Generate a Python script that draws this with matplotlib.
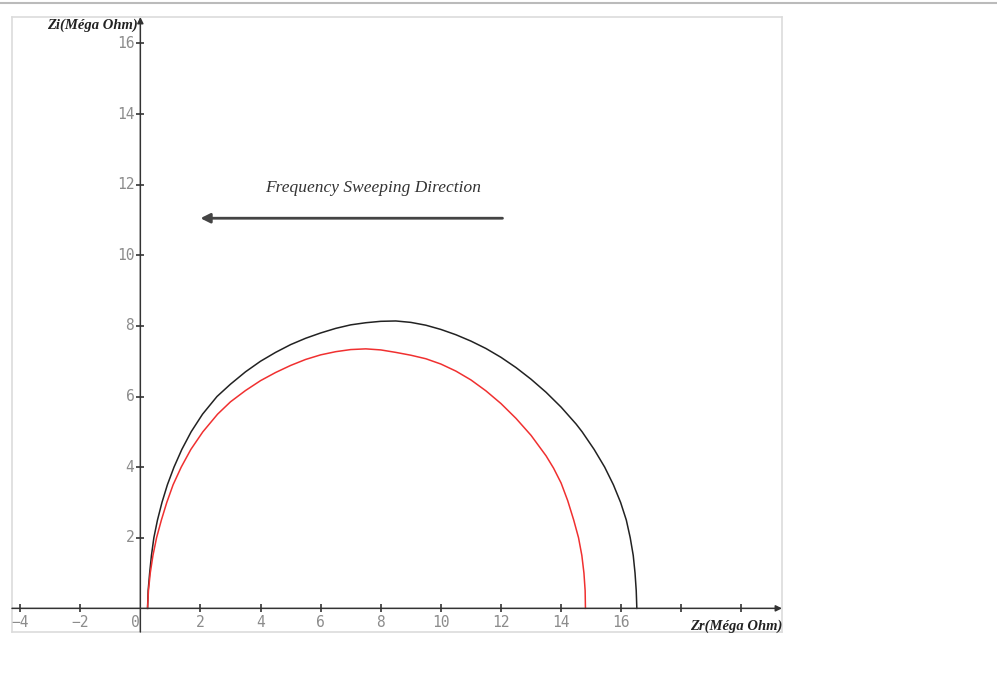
import matplotlib.pyplot as plt
from matplotlib.lines import Line2D

# Nyquist plot readings (Zr, Zi) in Mega Ohm
zr_black = [0.24, 0.26, 0.31, 0.37, 0.45, 0.57, 0.72, 0.9, 1.12, 1.38, 1.69, 2.07, 2.55,
            3.0, 3.5, 4.0, 4.5, 5.0, 5.5, 6.0, 6.5, 7.0, 7.5, 8.0, 8.5, 9.0, 9.5, 10.0,
            10.5, 11.0, 11.5, 12.0, 12.5, 13.0, 13.5, 14.0, 14.5,
            14.7, 15.1, 15.45, 15.74, 15.98, 16.17, 16.3, 16.4, 16.46, 16.5, 16.52]
zi_black = [0.0, 0.5, 1.0, 1.5, 2.0, 2.5, 3.0, 3.5, 4.0, 4.5, 5.0, 5.5, 6.0,
            6.35, 6.7, 7.0, 7.25, 7.47, 7.65, 7.8, 7.93, 8.03, 8.09, 8.13, 8.14, 8.1, 8.02, 7.9,
            7.75, 7.57, 7.36, 7.11, 6.82, 6.49, 6.12, 5.7, 5.22,
            5.0, 4.5, 4.0, 3.5, 3.0, 2.5, 2.0, 1.5, 1.0, 0.5, 0.0]

zr_red = [0.24, 0.27, 0.33, 0.42, 0.54, 0.7, 0.88, 1.09, 1.36, 1.68, 2.08, 2.57,
          3.0, 3.5, 4.0, 4.5, 5.0, 5.5, 6.0, 6.5, 7.0, 7.5, 8.0, 8.5, 9.0, 9.5, 10.0,
          10.5, 11.0, 11.5, 12.0, 12.5, 13.0, 13.5, 13.75,
          14.0, 14.22, 14.42, 14.58, 14.69, 14.76, 14.8, 14.81]
zi_red = [0.0, 0.5, 1.0, 1.5, 2.0, 2.5, 3.0, 3.5, 4.0, 4.5, 5.0, 5.5,
          5.85, 6.17, 6.45, 6.68, 6.88, 7.05, 7.18, 7.27, 7.33, 7.35, 7.32, 7.25, 7.17, 7.07, 6.92,
          6.72, 6.47, 6.16, 5.8, 5.38, 4.9, 4.32, 3.97,
          3.55, 3.05, 2.5, 2.0, 1.5, 1.0, 0.5, 0.0]

xticks = [-4, -2, 2, 4, 6, 8, 10, 12, 14, 16, 18, 20]
xlabels = ['−4', '−2', '2', '4', '6', '8', '10', '12', '14', '16', '', '']
yticks = [2, 4, 6, 8, 10, 12, 14, 16]

fig = plt.figure(figsize=(9.97, 6.97), dpi=100)
fig.add_artist(Line2D([0, 1], [0.996, 0.996], color='#bbbbbb', lw=1.5))

ax = fig.add_axes([12 / 997, 65 / 697, 770 / 997, 615 / 697])
ax.set_xlim(-4.27, 21.35)
ax.set_ylim(-0.67, 16.75)
ax.set_xticks([])
ax.set_yticks([])
for s in ax.spines.values():
    s.set_color('#dcdcdc')
    s.set_linewidth(1.2)

axis_col = '#333333'
ax.annotate('', xy=(21.35, 0), xytext=(-4.27, 0),
            arrowprops=dict(arrowstyle='-|>', color=axis_col, lw=1.1, mutation_scale=9,
                            shrinkA=0, shrinkB=0))
ax.annotate('', xy=(0, 16.75), xytext=(0, -0.67),
            arrowprops=dict(arrowstyle='-|>', color=axis_col, lw=1.1, mutation_scale=9,
                            shrinkA=0, shrinkB=0))

ax.plot(xticks, [0] * len(xticks), '|', color=axis_col, ms=6, mew=1.2)
ax.plot([0] * len(yticks), yticks, '_', color=axis_col, ms=6, mew=1.2)

lab = dict(family='DejaVu Sans Mono', fontsize=10.5, color='#8c8c8c')
for x, t in zip(xticks, xlabels):
    ax.text(x, -0.4, t, ha='center', va='center', **lab)
ax.text(-0.15, -0.4, '0', ha='center', va='center', **lab)
for y in yticks:
    ax.text(-0.2, y, str(y), ha='right', va='center', **lab)

ax.plot(zr_black, zi_black, color='#222222', lw=1.1)
ax.plot(zr_red, zi_red, color='#f03030', lw=1.1)

serif = 'Liberation Serif'
ax.text(-0.1, 16.52, 'Zi(Méga Ohm)', ha='right', va='center', family=serif,
        fontsize=10.5, fontweight='bold', fontstyle='italic', color='#222222')
ax.text(21.35, -0.5, 'Zr(Méga Ohm)', ha='right', va='center', family=serif,
        fontsize=10.5, fontweight='bold', fontstyle='italic', color='#222222')

ax.annotate('', xy=(2, 11.05), xytext=(12.05, 11.05),
            arrowprops=dict(arrowstyle='-|>', color='#444444', lw=2.0, mutation_scale=14,
                            shrinkA=0, shrinkB=0))
ax.text(7.75, 11.9, 'Frequency Sweeping Direction', ha='center', va='center', family=serif,
        fontsize=12.5, fontstyle='italic', color='#333333')

plt.savefig('out.png', dpi=100)
